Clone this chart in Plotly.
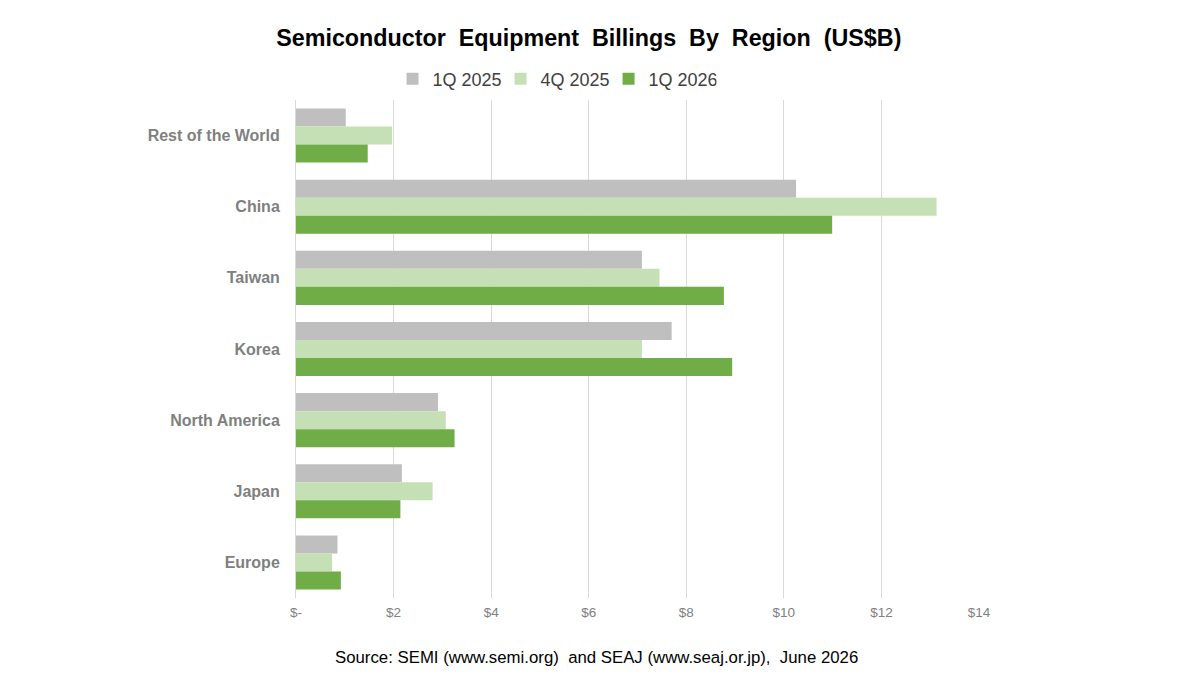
import plotly.graph_objects as go

# data (US$B)
regions = ["Rest of the World", "China", "Taiwan", "Korea", "North America", "Japan", "Europe"]
q1_2025 = [1.02, 10.25, 7.09, 7.70, 2.91, 2.17, 0.85]
q4_2025 = [1.97, 13.13, 7.45, 7.09, 3.07, 2.80, 0.74]
q1_2026 = [1.47, 10.99, 8.77, 8.94, 3.25, 2.14, 0.92]
tick_vals = [0, 2, 4, 6, 8, 10, 12, 14]
tick_text = ["$-", "$2", "$4", "$6", "$8", "$10", "$12", "$14"]

series = [
    ("1Q 2025", q1_2025, "#BFBFBF"),
    ("4Q 2025", q4_2025, "#C5E0B4"),
    ("1Q 2026", q1_2026, "#70AD47"),
]

fig = go.Figure()
for name, vals, col in series:
    fig.add_trace(
        go.Bar(
            y=regions,
            x=vals,
            name=name,
            orientation="h",
            marker=dict(color=col, line=dict(width=0)),
        )
    )

# the page body has an 8px margin, so everything is placed 8px up/left
fig.update_layout(
    width=1200,
    height=682,
    plot_bgcolor="white",
    paper_bgcolor="white",
    font=dict(family="Arial, Liberation Sans, sans-serif", color="#595959"),
    barmode="group",
    bargap=0.24,
    bargroupgap=0,
    margin=dict(l=288, r=228, t=92, b=92, autoexpand=False),
    title=dict(
        text="<b>Semiconductor  Equipment  Billings  By  Region  (US$B)</b>",
        x=0.484,
        xanchor="center",
        y=0.956,
        yanchor="middle",
        font=dict(size=23.3, color="black"),
    ),
    legend=dict(
        orientation="h",
        x=0.378,
        xanchor="center",
        y=1.042,
        yanchor="middle",
        font=dict(size=18, color="#404040"),
        traceorder="normal",
        itemwidth=30,
        entrywidth=63,
        entrywidthmode="pixels",
    ),
    showlegend=True,
)

fig.update_xaxes(
    range=[0, 14.02],
    tickvals=tick_vals,
    ticktext=tick_text,
    showgrid=True,
    gridcolor="#D9D9D9",
    gridwidth=1,
    zeroline=False,
    showline=False,
    tickfont=dict(size=13.5, color="#808080"),
    ticklabelstandoff=4,
    ticks="",
    automargin=False,
)
fig.update_yaxes(
    autorange="reversed",
    showline=True,
    linecolor="#D9D9D9",
    tickfont=dict(size=16, color="#7F7F7F"),
    ticklabelstandoff=12,
    ticks="",
    automargin=False,
    tickvals=regions,
    ticktext=["<b>" + r + "</b>" for r in regions],
)

fig.add_annotation(
    text="Source: SEMI (www.semi.org)  and SEAJ (www.seaj.or.jp),  June 2026",
    xref="paper",
    yref="paper",
    x=0.44,
    y=-0.12,
    xanchor="center",
    yanchor="middle",
    showarrow=False,
    font=dict(size=16.8, color="black"),
)

fig.write_html("out.html")
